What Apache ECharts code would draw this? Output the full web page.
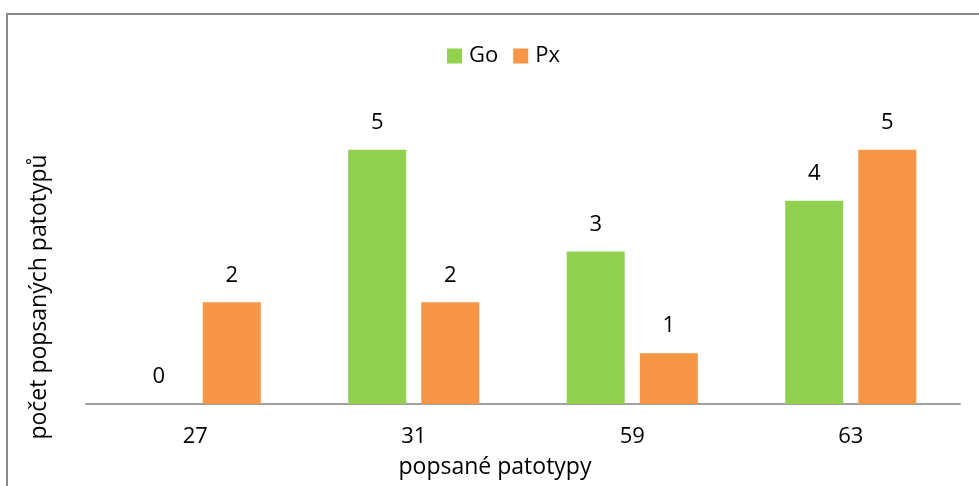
<!DOCTYPE html>
<html>
<head>
<meta charset="utf-8">
<script src="https://cdn.jsdelivr.net/npm/echarts@6/dist/echarts.min.js"></script>
<style>
html,body{margin:0;padding:0;background:#fff;}
#c{width:979px;height:486px;}
</style>
</head>
<body>
<div id="c"></div>
<script>
const categories = ['27', '31', '59', '63'];
const seriesNames = ['Go', 'Px'];
const goValues = [0, 5, 3, 4];
const pxValues = [2, 2, 1, 5];
const yAxisTitle = 'počet popsaných patotypů';
const xAxisTitle = 'popsané patotypy';

const FONT = '"Open Sans", "Noto Sans", sans-serif';
const chart = echarts.init(document.getElementById('c'), null, {renderer: 'canvas'});
const labelStyle = {show: true, position: 'top', distance: 16, color: '#000', fontSize: 22, fontFamily: FONT};
chart.setOption({
  animation: false,
  backgroundColor: '#fff',
  legend: {
    top: 40,
    left: 442,
    itemWidth: 15,
    itemHeight: 15,
    itemGap: 15,
    icon: 'rect',
    textStyle: {fontSize: 22, fontFamily: FONT, color: '#000', padding: [0,0,0,2]},
    data: seriesNames
  },
  grid: {left: 86, right: 19, top: 99, bottom: 82, containLabel: false},
  xAxis: {
    type: 'category',
    data: categories,
    axisLine: {lineStyle: {color: '#a0a0a0', width: 2}},
    axisTick: {show: false},
    axisLabel: {fontSize: 22, fontFamily: FONT, color: '#000', margin: 22}
  },
  yAxis: {
    type: 'value',
    min: 0, max: 6, interval: 1,
    axisLine: {show: false},
    axisTick: {show: false},
    axisLabel: {show: false},
    splitLine: {show: false}
  },
  series: [
    {name: seriesNames[0], type: 'bar', data: goValues, barWidth: 58, barGap: '26%',
     itemStyle: {color: '#92D050'}, label: labelStyle},
    {name: seriesNames[1], type: 'bar', data: pxValues, barWidth: 58, barGap: '26%',
     itemStyle: {color: '#F79646'}, label: labelStyle}
  ],
  graphic: [
    {type: 'rect', shape: {x: 7, y: 14, width: 1000, height: 500}, silent: true,
     style: {fill: 'none', stroke: '#8c8c8c', lineWidth: 2}},
    {type: 'text', x: 39, y: 297, rotation: Math.PI/2,
     style: {text: yAxisTitle, fontSize: 23, fontFamily: FONT, fill: '#000', align: 'center', verticalAlign: 'middle'}},
    {type: 'text', x: 495, y: 467,
     style: {text: xAxisTitle, fontSize: 23, fontFamily: FONT, fill: '#000', align: 'center', verticalAlign: 'middle'}}
  ]
});
</script>
</body>
</html>
